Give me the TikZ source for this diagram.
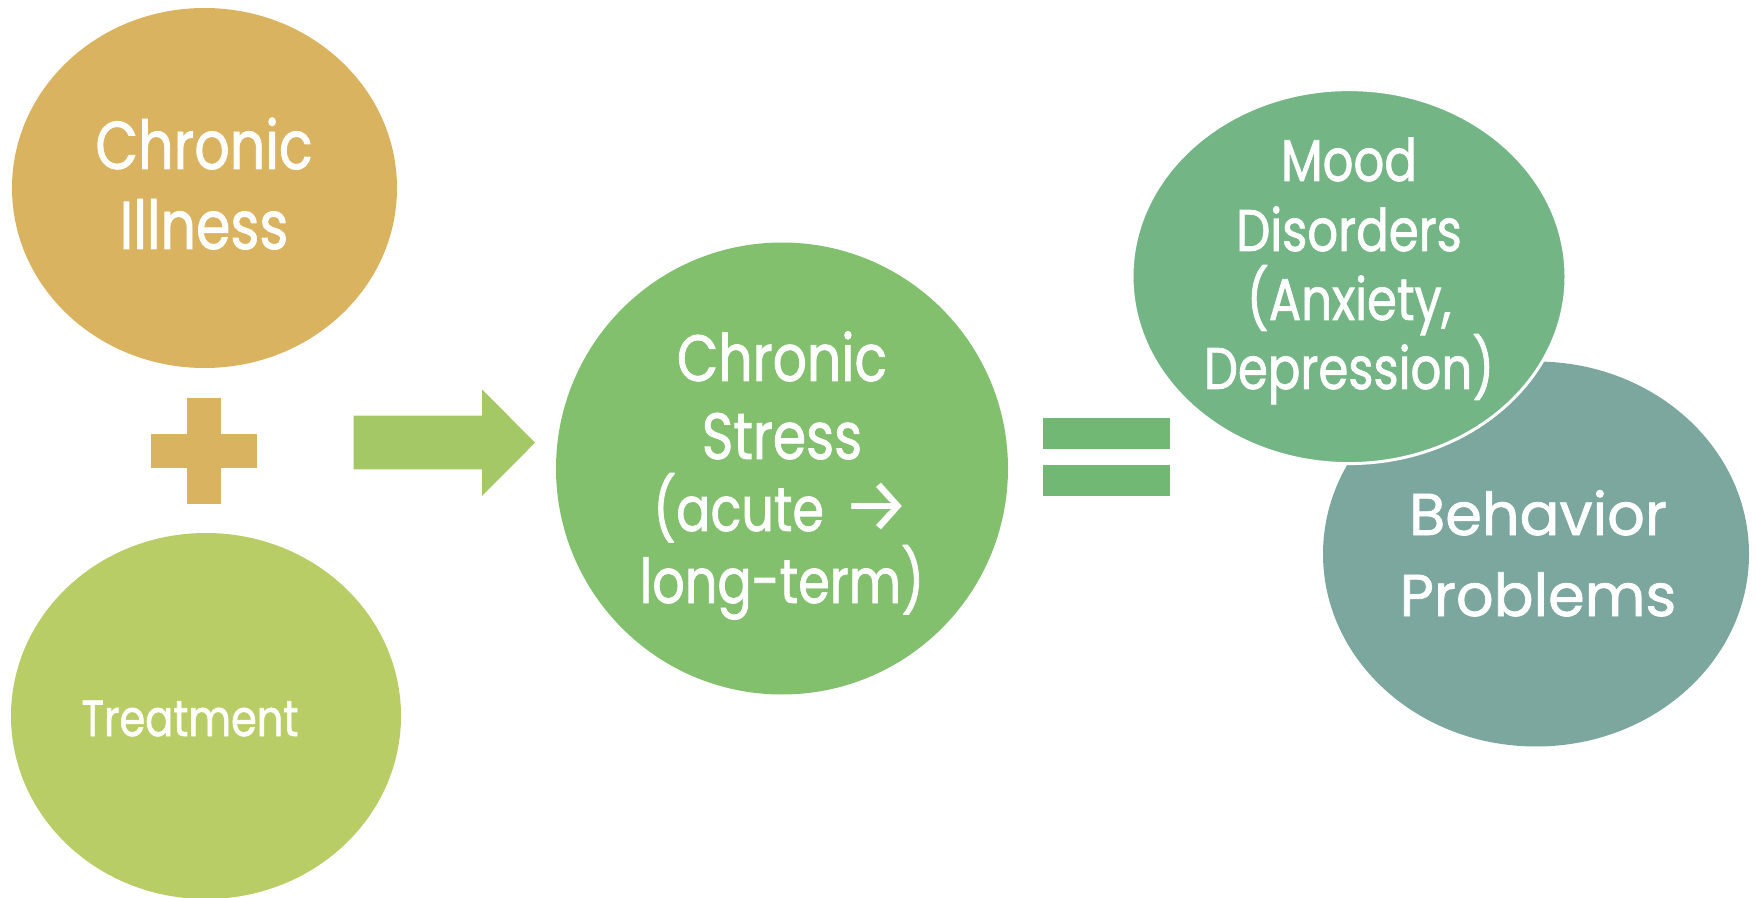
\documentclass[tikz,border=0pt]{standalone}
\usepackage{fontspec}
\setmainfont{Poppins}[FakeBold=1.2]
\newfontfamily\narrowpop{Poppins}[FakeStretch=0.82,FakeBold=1.2]
\newfontfamily\arrowfont{Fira Sans}
\definecolor{cIll}{HTML}{D9B35F}
\definecolor{cTreat}{HTML}{B8CD65}
\definecolor{cArrow}{HTML}{A4C866}
\definecolor{cStress}{HTML}{82C06E}
\definecolor{cEq}{HTML}{72B875}
\definecolor{cMood}{HTML}{73B585}
\definecolor{cBeh}{HTML}{7CA79E}
\tikzset{
  lbl/.style={text=white, anchor=base, inner sep=0pt},
  illtxt/.style={lbl, font=\narrowpop\fontsize{33.8}{38}\selectfont},
  treattxt/.style={lbl, font=\narrowpop\fontsize{25.3}{30}\selectfont},
  stresstxt/.style={lbl, font=\narrowpop\fontsize{32.7}{38}\selectfont},
  stresssm/.style={lbl, font=\narrowpop\fontsize{31}{36}\selectfont},
  moodtxt/.style={lbl, font=\narrowpop\fontsize{29.4}{34}\selectfont},
  behtxt/.style={lbl, font=\fontsize{29.5}{34}\selectfont},
}
\begin{document}
\begin{tikzpicture}[x=0.5pt,y=-0.5pt]
\useasboundingbox (0,0) rectangle (1756,898);
% ellipses
\fill[cIll] (204.5,188) ellipse [x radius=192.5, y radius=180];
\fill[cTreat] (206,716) ellipse [x radius=195, y radius=183];
\fill[cStress] (782,468.5) circle [radius=226];
\fill[cBeh] (1536,554) ellipse [x radius=213, y radius=192.5];
\filldraw[cMood, draw=white, line width=1.5pt] (1349,276.6) ellipse [x radius=217, y radius=187];
% plus
\fill[cIll] (187,398) rectangle (220.7,504);
\fill[cIll] (151,434) rectangle (256.7,468);
% arrow
\fill[cArrow] (353.7,415.7) -- (482,415.7) -- (482,389.3) -- (535,442.7) -- (482,496) -- (482,469.3) -- (353.7,469.3) -- cycle;
% equals
\fill[cEq] (1042.6,418.3) rectangle (1170,449.3);
\fill[cEq] (1042.6,465) rectangle (1170,496);
% texts
\node[illtxt] (t1) at (204,169) {Chronic};
\node[illtxt] (t2) at (204,249) {Illness};
\node[treattxt] (t3) at (190,736) {Treatment};
\node[stresstxt] (s1) at (782,381) {Chronic};
\node[stresstxt] (s2) at (782,459) {Stress};
\node[stresssm] (s3) at (782,531) {(acute\hspace{0.3em}{\arrowfont\fontsize{38}{38}\selectfont →}};
\node[stresssm] (s4) at (782,603) {long-term)};
\node[moodtxt] (m1) at (1349,181) {Mood};
\node[moodtxt] (m2) at (1349,251) {Disorders};
\node[moodtxt] (m3) at (1349,320) {(Anxiety,};
\node[moodtxt] (m4) at (1349,389) {Depression)};
\node[behtxt] (b1) at (1538,535) {Behavior};
\node[behtxt] (b2) at (1538,616) {Problems};
\end{tikzpicture}
\end{document}
